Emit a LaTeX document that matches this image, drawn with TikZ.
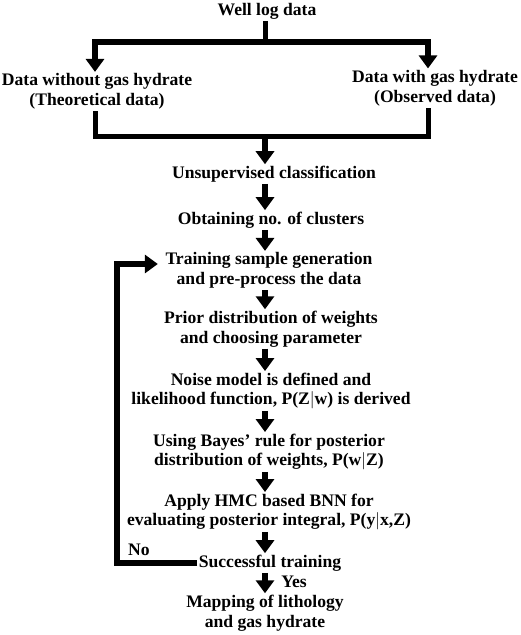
\documentclass[tikz,border=0pt]{standalone}
\usepackage{fontspec}
\setmainfont{Liberation Serif}
\usetikzlibrary{arrows.meta}

\tikzset{
  txt/.style={align=center,inner sep=1.5pt,font=\bfseries\fontsize{17.6}{19.8}\selectfont},
  bar/.style={line width=5pt,line join=miter},
  flow/.style={line width=6pt,line join=miter,-{Triangle[width=18pt,length=13pt]}}
}

\begin{document}
\begin{tikzpicture}[x=1pt,y=-1pt]
\useasboundingbox (0,0) rectangle (520,635);
\node[txt] (well) at (267,11) {Well log data};
\node[txt] (nogas) at (97,91.5) {Data without gas hydrate\\(Theoretical data)};
\node[txt] (gas) at (435,88) {Data with gas hydrate\\(Observed data)};
\node[txt] (unsup) at (274,174) {Unsupervised classification};
\node[txt] (clust) at (271,220) {Obtaining no. of clusters};
\node[txt] (train) at (269,270.5) {Training sample generation\\and pre-process the data};
\node[txt] (prior) at (271,329) {Prior distribution of weights\\and choosing parameter};
\node[txt] (noise) at (271,391) {Noise model is defined and\\likelihood function, P(Z$|$w) is derived};
\node[txt] (bayes) at (269,452) {Using Bayes' rule for posterior\\distribution of weights, P(w$|$Z)};
\node[txt] (hmc) at (269,512) {Apply HMC based BNN for\\evaluating posterior integral, P(y$|$x,Z)};
\node[txt] (succ) at (270,563) {Successful training};
\node[txt] (map) at (265,613) {Mapping of lithology\\and gas hydrate};
\node[txt] (no) at (139,550) {No};
\node[txt] (yes) at (294,582) {Yes};
% split and merge
\coordinate (axis) at (265,0);
\coordinate (split) at (265,42);
\coordinate (lturn) at (95,42);
\coordinate (rturn) at (428,42);
\coordinate (merge) at (265,136);
\draw[bar] (well.south -| axis) -- (split);
\draw[flow] (split) -| (lturn |- nogas.north);
\draw[flow] (split) -| (rturn |- gas.north);
\draw[bar] (lturn |- nogas.south) |- (merge) -| (rturn |- gas.south);
\draw[flow] (merge) -- (merge |- unsup.north);
% main chain
\foreach \a/\b in {unsup/clust,clust/train,train/prior,prior/noise,noise/bayes,bayes/hmc,hmc/succ,succ/map}
  \draw[flow] (\a.south -| axis) -- (\b.north -| axis);
% loop back
\coordinate (back) at (117,264);
\draw[flow,shorten >=6pt] (succ.west) -| (back) -- (back -| train.west);
\end{tikzpicture}
\end{document}
